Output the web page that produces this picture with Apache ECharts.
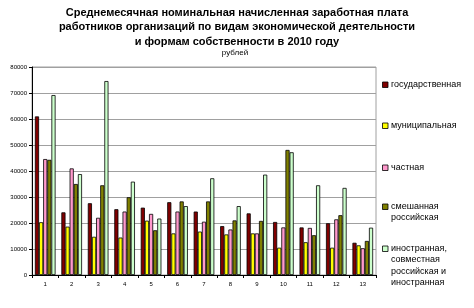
<!DOCTYPE html>
<html><head><meta charset="utf-8">
<script src="https://cdn.jsdelivr.net/npm/echarts@6/dist/echarts.min.js"></script>
<style>html,body{margin:0;padding:0;background:#fff}#c{width:474px;height:308px}</style>
</head><body><div id="c"></div>
<script>
var categories = ['1','2','3','4','5','6','7','8','9','10','11','12','13'];
var seriesNames = ['государственная','муниципальная','частная','смешанная\nроссийская','иностранная,\nсовместная\nроссийская и\nиностранная'];
var stateVals   = [61000,24100,27600,25300,25900,28000,24400,18800,23700,20400,18300,19900,12400];
var municVals   = [20300,18600,14700,14400,20900,16000,16700,15600,16000,10500,12600,10500,11400];
var privateVals = [44600,41000,22000,24400,23500,24400,20500,17500,16000,18300,18100,21400,10300];
var mixedVals   = [44300,35000,34500,29900,17200,28300,28300,21000,20800,48100,15300,23000,13100];
var foreignVals = [69200,38800,74600,35900,21700,26500,37200,26500,38600,47200,34500,33500,18200];
var yTicks = [0,10000,20000,30000,40000,50000,60000,70000,80000];
var colors = ['#800000','#ffff00','#ff99cc','#808000','#ccffcc'];
var allVals = [stateVals,municVals,privateVals,mixedVals,foreignVals];

var chart = echarts.init(document.getElementById('c'));
var legendTops = [85,126,168,207,249];
var legendGraphics = [];
seriesNames.forEach(function(n,i){
  var y = legendTops[i];
  legendGraphics.push({type:'rect', shape:{x:382.5, y:y-3, width:5.5, height:5.5},
    style:{fill:colors[i], stroke:'#000', lineWidth:0.8}});
  legendGraphics.push({type:'text', x:391, y:y-6,
    style:{text:n, fill:'#000', font:'9px Arial, "Liberation Sans"', lineHeight:11.3, textVerticalAlign:'top'}});
});
chart.setOption({
  animation:false,
  title:[{
    text:'Среднемесячная номинальная начисленная заработная плата\nработников организаций по видам экономической деятельности\nи формам собственности в 2010 году',
    left:232, top:1, textAlign:'center',
    textStyle:{fontFamily:'Arial, Liberation Sans', fontSize:11, fontWeight:'bold', lineHeight:14.3, color:'#000'}
  },{
    text:'рублей', left:230, top:44, textAlign:'center',
    textStyle:{fontFamily:'Arial, Liberation Sans', fontSize:8, fontWeight:'normal', color:'#000'}
  }],
  graphic: legendGraphics,
  grid:{left:32, right:98, top:67, bottom:33, show:true, borderColor:'#a0a0a0', borderWidth:1},
  xAxis:{
    type:'category', data:categories,
    axisLine:{lineStyle:{color:'#000', width:1}},
    axisTick:{show:true, length:3, lineStyle:{color:'#000'}},
    axisLabel:{fontSize:6, color:'#000', margin:6, fontFamily:'Arial, Liberation Sans'}
  },
  yAxis:{
    type:'value', min:0, max:80000, interval:10000,
    axisLine:{show:true, lineStyle:{color:'#000', width:1}},
    axisTick:{show:true, length:3, lineStyle:{color:'#000'}},
    axisLabel:{fontSize:6, color:'#000', margin:5, fontFamily:'Arial, Liberation Sans',
      formatter:function(v){return String(v);}},
    splitLine:{lineStyle:{color:'#a0a0a0', width:1}}
  },
  series: allVals.map(function(v,i){
    return {
      name:seriesNames[i], type:'bar', data:v,
      barGap:'0%', barCategoryGap:'22%',
      itemStyle:{color:colors[i], borderColor:'#000', borderWidth:0.8}
    };
  })
});
</script></body></html>
